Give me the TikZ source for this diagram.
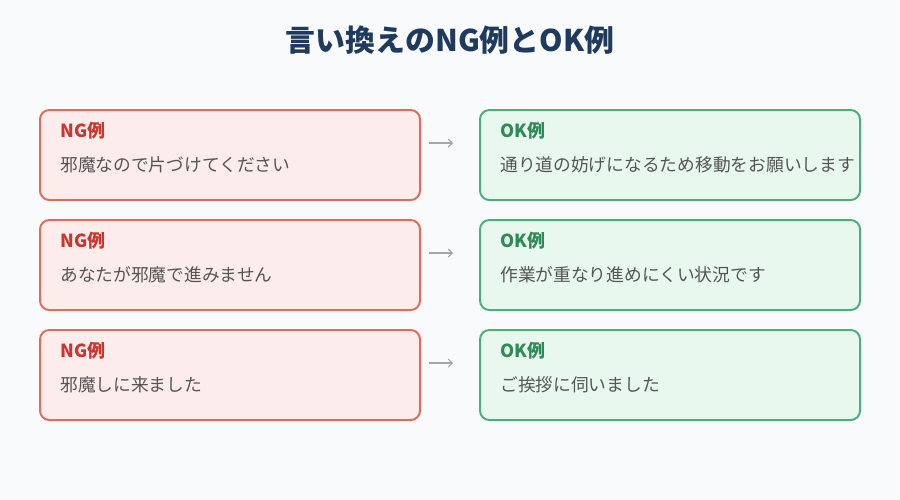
\documentclass[tikz,border=0pt]{standalone}
\usepackage{fontspec}
\setmainfont{Noto Sans CJK JP}
\usetikzlibrary{positioning}
\usetikzlibrary{arrows.meta}
\definecolor{bg}{HTML}{F8FAFC}
\definecolor{titleblue}{HTML}{1F3A5C}
\definecolor{ngline}{HTML}{E06B5F}
\definecolor{ngfill}{HTML}{FDECEC}
\definecolor{ngtext}{HTML}{C8372D}
\definecolor{okline}{HTML}{4CAF7A}
\definecolor{okfill}{HTML}{E9F8EF}
\definecolor{oktext}{HTML}{2E8B57}
\definecolor{bodytext}{HTML}{555555}
\begin{document}
\begin{tikzpicture}[
  x=0.75pt, y=-0.75pt,
  ngbox/.style={draw=ngline, fill=ngfill, line width=1.5pt, rounded corners=7pt, outer sep=0pt, minimum width=285pt, minimum height=67.5pt},
  okbox/.style={ngbox, draw=okline, fill=okfill},
  tag/.style={anchor=west, font=\bfseries\fontsize{13.5}{15}\selectfont, inner sep=0pt},
  body/.style={anchor=west, text=bodytext, font=\fontsize{13.3}{15}\selectfont, inner sep=0pt},
  arrow/.style={-{Straight Barb[length=3pt]}, draw=gray!70, line width=0.8pt}
]
\fill[bg] (0,0) rectangle (900,500);
\node[text=titleblue, font=\bfseries\fontsize{22.4}{26}\selectfont] (title) at (450,40) {言い換えのNG例とOK例};

\node[ngbox] (ng1) at (230,155) {};
\node[ngbox, below=15pt of ng1] (ng2) {};
\node[ngbox, below=15pt of ng2] (ng3) {};
\node[okbox, right=45pt of ng1] (ok1) {};
\node[okbox, right=45pt of ng2] (ok2) {};
\node[okbox, right=45pt of ng3] (ok3) {};

% labels
\node[tag, text=ngtext] at ([shift={(20,21)}]ng1.north west) {NG例};
\node[body] at ([shift={(20,55)}]ng1.north west) {邪魔なので片づけてください};
\node[tag, text=ngtext] at ([shift={(20,21)}]ng2.north west) {NG例};
\node[body] at ([shift={(20,55)}]ng2.north west) {あなたが邪魔で進みません};
\node[tag, text=ngtext] at ([shift={(20,21)}]ng3.north west) {NG例};
\node[body] at ([shift={(20,55)}]ng3.north west) {邪魔しに来ました};

\node[tag, text=oktext] at ([shift={(20,21)}]ok1.north west) {OK例};
\node[body] at ([shift={(20,55)}]ok1.north west) {通り道の妨げになるため移動をお願いします};
\node[tag, text=oktext] at ([shift={(20,21)}]ok2.north west) {OK例};
\node[body] at ([shift={(20,55)}]ok2.north west) {作業が重なり進めにくい状況です};
\node[tag, text=oktext] at ([shift={(20,21)}]ok3.north west) {OK例};
\node[body] at ([shift={(20,55)}]ok3.north west) {ご挨拶に伺いました};

% arrows
\draw[arrow] ([shift={(9,33)}]ng1.north east) -- ([shift={(-27,33)}]ok1.north west);
\draw[arrow] ([shift={(9,33)}]ng2.north east) -- ([shift={(-27,33)}]ok2.north west);
\draw[arrow] ([shift={(9,33)}]ng3.north east) -- ([shift={(-27,33)}]ok3.north west);
\end{tikzpicture}
\end{document}
